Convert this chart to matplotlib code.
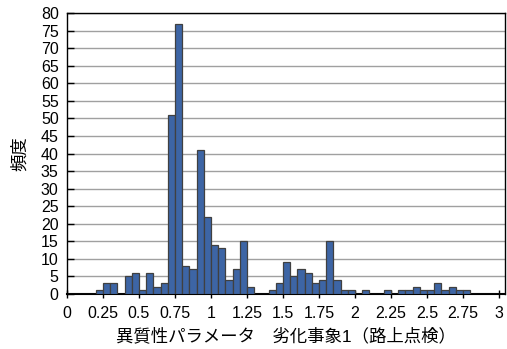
import matplotlib
matplotlib.use("Agg")
import matplotlib.pyplot as plt
import numpy as np

plt.rcParams['font.family'] = ['Liberation Sans', 'Noto Sans CJK JP', 'DejaVu Sans']

bin_width = 0.05
counts = [0, 0, 0, 0, 1, 3, 3, 0, 5, 6,
          1, 6, 2, 3, 51, 77, 8, 7, 41, 22,
          14, 13, 4, 7, 15, 2, 0, 0, 1, 3,
          9, 5, 7, 6, 3, 4, 15, 4, 1, 1,
          0, 1, 0, 0, 1, 0, 1, 1, 2, 1,
          1, 3, 1, 2, 1, 1, 0, 0, 0, 0]
x_ticks = [0, 0.25, 0.5, 0.75, 1, 1.25, 1.5, 1.75, 2, 2.25, 2.5, 2.75, 3]
x_ticklabels = ['0', '0.25', '0.5', '0.75', '1', '1.25', '1.5', '1.75', '2', '2.25', '2.5', '2.75', '3']
y_ticks = list(range(0, 81, 5))
xlabel = '異質性パラメータ\u3000劣化事象1（路上点検）'
ylabel = '頻度'

edges = np.arange(len(counts)) * bin_width

fig = plt.figure(figsize=(5.07, 3.49), dpi=100)
ax = fig.add_axes([67/507, 1 - 294/349, 438/507, (294-13)/349])

ax.bar(edges, counts, width=bin_width, align='edge',
       color='#3d65a5', edgecolor='#404040', linewidth=0.9, zorder=3)

ax.set_xlim(0, 438/144)
ax.set_ylim(0, 80)
ax.set_xticks(x_ticks)
ax.set_xticklabels(x_ticklabels)
ax.set_yticks(y_ticks)
ax.yaxis.grid(True, color='#a0a0a0', linewidth=1.0, zorder=0)
ax.set_axisbelow(True)

for s in ax.spines.values():
    s.set_color('black')
    s.set_linewidth(1.0)
ax.spines['bottom'].set_linewidth(1.5)

ax.tick_params(axis='y', direction='in', length=5, width=1, labelsize=11.5, pad=6)
ax.tick_params(axis='x', direction='inout', length=6, width=1, labelsize=11.5, pad=6)

ax.set_xlabel(xlabel, fontsize=12.5, labelpad=4)
ax.set_ylabel(ylabel, fontsize=12.5, labelpad=9)

fig.savefig('out.png', dpi=100)
